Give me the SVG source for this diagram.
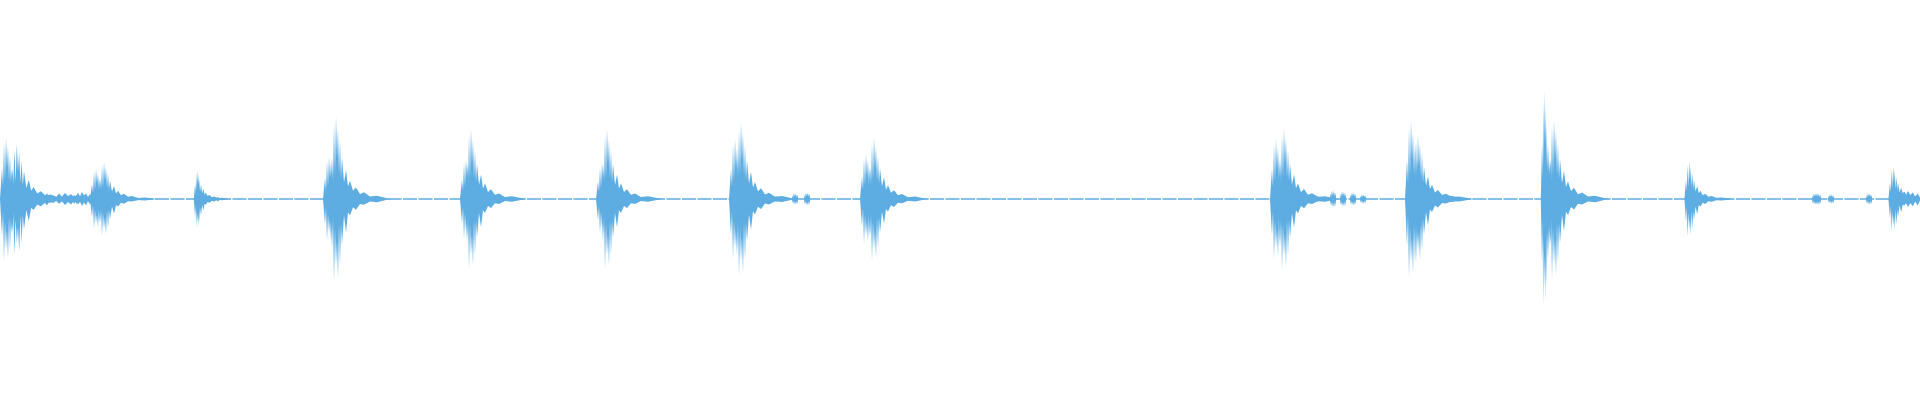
<svg xmlns="http://www.w3.org/2000/svg" width="1920" height="400" viewBox="0 0 1920 400">
<style>.w{fill:#5dade2}.c{stroke:#5dade2;stroke-width:1.3;stroke-dasharray:14 1.5}</style>
<defs>
<path id="b" d="M-2,0 L0,-0.5 L1,-0.2 L2,-0.9 L3,-0.3 L4,-1 L5,-0.5 L6,-0.85 L7,-0.3 L8,-0.7 L9,-0.25 L10,-0.5 L12,-0.2 L14,-0.35 L16,-0.15 L18,-0.22 L21,-0.1 L24,-0.14 L28,-0.06 L32,-0.08 L38,-0.03 L45,-0.04 L55,-0.01 L60,0 L55,0.01 L45,0.04 L38,0.03 L32,0.07 L28,0.06 L24,0.13 L21,0.1 L18,0.2 L16,0.16 L14,0.4 L12,0.2 L10,0.55 L9,0.3 L8,0.8 L7,0.3 L6,0.95 L5,0.5 L4,0.8 L3,0.35 L2,1 L1,0.2 L0,0.6 Z"/>
<path id="n" d="M0,0 L2,-0.6 L4,-0.3 L6,-0.9 L8,-0.4 L10,-1 L12,-0.5 L14,-0.8 L16,-0.3 L18,-0.7 L20,-0.2 L20,0.2 L18,0.8 L16,0.3 L14,0.9 L12,0.5 L10,1 L8,0.4 L6,0.8 L4,0.3 L2,0.7 Z"/>
</defs>
<line class="c" x1="0" y1="199" x2="1920" y2="199"/>
<g class="w">
<use href="#b" transform="translate(2,199) scale(1,62)"/>
<use href="#b" transform="translate(12,199) scale(1.2,55)"/>
<use href="#n" transform="translate(20,199) scale(1.5,8)"/>
<use href="#n" transform="translate(50,199) scale(1.5,6)"/>
<use href="#n" transform="translate(72,199) scale(1,7)"/>
<use href="#b" transform="translate(92,199) scale(1,30)"/>
<use href="#b" transform="translate(100,199) scale(1,37)"/>
<use href="#b" transform="translate(195,199) scale(0.6,29)"/>
<use href="#n" transform="translate(200,199) scale(1,3)"/>
<use href="#b" transform="translate(325,199) scale(1,42)"/>
<use href="#b" transform="translate(332,199) scale(1,83)"/>
<use href="#b" transform="translate(462,199) scale(1,40)"/>
<use href="#b" transform="translate(467,199) scale(1,70)"/>
<use href="#b" transform="translate(598,199) scale(1,35)"/>
<use href="#b" transform="translate(603,199) scale(1,70)"/>
<use href="#b" transform="translate(731,199) scale(1,60)"/>
<use href="#b" transform="translate(737,199) scale(1,77)"/>
<use href="#n" transform="translate(792,199) scale(0.3,6)"/>
<use href="#n" transform="translate(804,199) scale(0.3,7)"/>
<use href="#b" transform="translate(862,199) scale(1,45)"/>
<use href="#b" transform="translate(870,199) scale(1,62)"/>
<use href="#b" transform="translate(1272,199) scale(1,60)"/>
<use href="#b" transform="translate(1280,199) scale(1,71)"/>
<use href="#n" transform="translate(1330,199) scale(0.3,9)"/>
<use href="#n" transform="translate(1340,199) scale(0.3,8)"/>
<use href="#n" transform="translate(1350,199) scale(0.3,7)"/>
<use href="#n" transform="translate(1360,199) scale(0.3,5)"/>
<use href="#b" transform="translate(1407,199) scale(1,78)"/>
<use href="#b" transform="translate(1414,199) scale(1,65)"/>
<use href="#b" transform="translate(1542,199) scale(0.6,109)"/>
<use href="#b" transform="translate(1550,199) scale(1,80)"/>
<use href="#b" transform="translate(1686,199) scale(0.8,38)"/>
<use href="#n" transform="translate(1812,199) scale(0.3,6)"/>
<use href="#n" transform="translate(1815,199) scale(0.3,6)"/>
<use href="#n" transform="translate(1828,199) scale(0.3,5)"/>
<use href="#n" transform="translate(1866,199) scale(0.3,6)"/>
<use href="#b" transform="translate(1890,199) scale(0.8,33)"/>
<use href="#n" transform="translate(1896,199) scale(1.2,8)"/>
</g>
</svg>
